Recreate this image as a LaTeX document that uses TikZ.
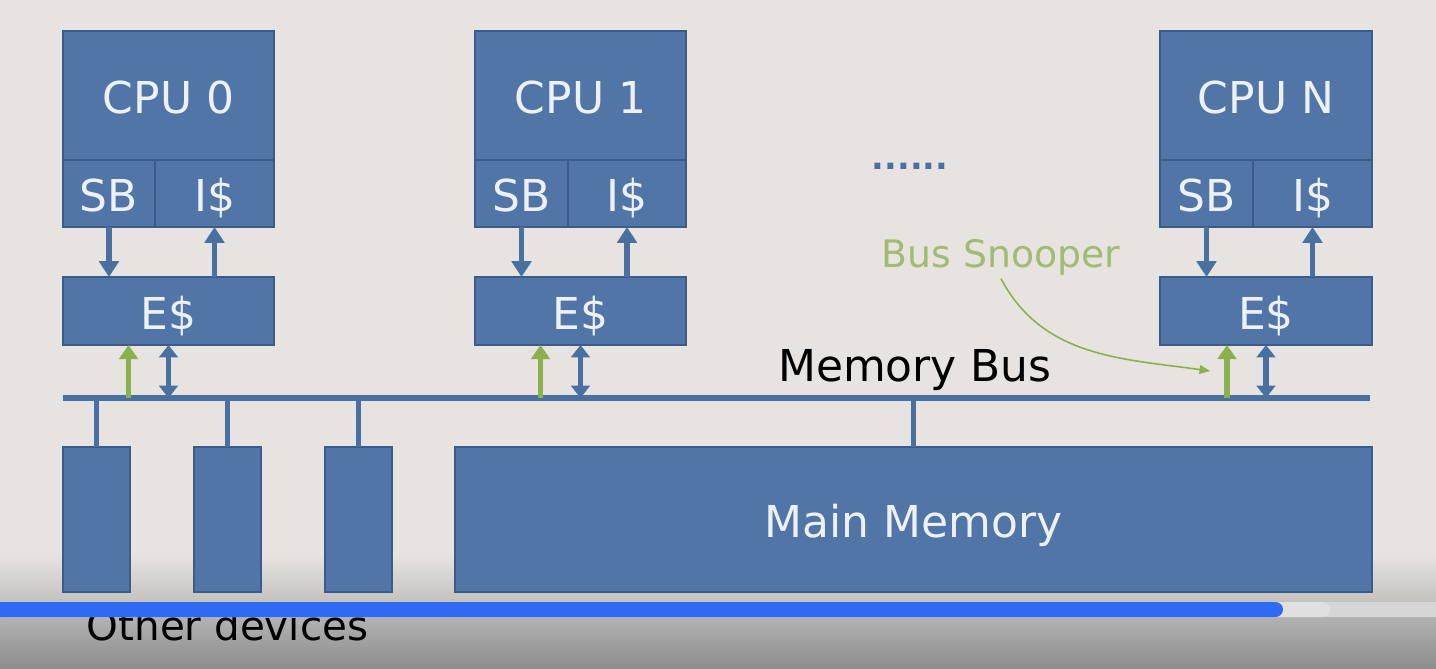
\documentclass[tikz,border=0pt]{standalone}
\usepackage{fontspec}
\setmainfont{DejaVu Sans}
\usetikzlibrary{arrows.meta,calc}

\definecolor{bg}{HTML}{E6E3E0}
\definecolor{boxfill}{HTML}{5075A6}
\definecolor{boxline}{HTML}{3B5B89}
\definecolor{boxtext}{HTML}{EDF1F6}
\definecolor{linkblue}{HTML}{4A70A2}
\definecolor{snoopgreen}{HTML}{8CB04C}
\definecolor{snooptext}{HTML}{A2BB72}
\definecolor{barblue}{HTML}{2E6BF2}

\tikzset{
  unit/.style={draw=boxline, fill=boxfill, text=boxtext, line width=1pt,
    inner sep=0pt, outer sep=0pt, text height=21pt, text depth=0pt,
    font=\fontsize{25}{30}\selectfont},
  link/.style={draw=linkblue, line width=3pt, -{Triangle[length=9pt,width=11pt]}},
  dlink/.style={draw=linkblue, line width=3pt,
    {Triangle[length=7pt,width=10.5pt]}-{Triangle[length=7pt,width=10.5pt]}},
  glink/.style={draw=snoopgreen, line width=3.2pt, -{Triangle[length=8pt,width=10.5pt]}},
  bus/.style={draw=linkblue, line width=3.2pt}
}

\begin{document}
\begin{tikzpicture}
    % background and margins
    \fill[bg] (0,0) rectangle (28.72,-13.36);
    \useasboundingbox (0,0) rectangle (28.72,-13.36);
    \shade[top color=bg, bottom color=bg!85!black] (0,-11.1) rectangle (28.72,-12.04);

    % processors
    \node[unit, minimum width=4.22cm, minimum height=2.58cm] (cpu0) at (3.37,-1.91) {CPU 0};
    \node[unit, minimum width=1.84cm, minimum height=1.34cm] (sb0) at (2.18,-3.87) {SB};
    \node[unit, minimum width=2.38cm, minimum height=1.34cm] (i0) at (4.29,-3.87) {I\$};
    \node[unit, minimum width=4.22cm, minimum height=1.36cm] (e0) at (3.37,-6.22) {E\$};

    \node[unit, minimum width=4.22cm, minimum height=2.58cm] (cpu1) at (11.61,-1.91) {CPU 1};
    \node[unit, minimum width=1.86cm, minimum height=1.34cm] (sb1) at (10.43,-3.87) {SB};
    \node[unit, minimum width=2.36cm, minimum height=1.34cm] (i1) at (12.54,-3.87) {I\$};
    \node[unit, minimum width=4.22cm, minimum height=1.36cm] (e1) at (11.61,-6.22) {E\$};

    \node[unit, minimum width=4.24cm, minimum height=2.58cm] (cpun) at (25.32,-1.91) {CPU N};
    \node[unit, minimum width=1.86cm, minimum height=1.34cm] (sbn) at (24.13,-3.87) {SB};
    \node[unit, minimum width=2.38cm, minimum height=1.34cm] (in) at (26.25,-3.87) {I\$};
    \node[unit, minimum width=4.24cm, minimum height=1.36cm] (en) at (25.32,-6.22) {E\$};

    \node[text=linkblue, font=\fontsize{19}{24}\bfseries, anchor=base] (dots) at (18.2,-3.38) {......};

    % memory bus
    \coordinate (busl) at (1.26,-7.96);
    \coordinate (busr) at (27.40,-7.96);
    \draw[bus] (busl) -- (busr);
    \node[anchor=base, font=\fontsize{25}{30}\selectfont] (buslabel) at (18.3,-7.62) {Memory Bus};

    % devices and memory
    \node[unit, minimum width=1.34cm, minimum height=2.9cm] (dev1) at (1.93,-10.39) {};
    \node[unit, minimum width=1.34cm, minimum height=2.9cm] (dev2) at (4.55,-10.39) {};
    \node[unit, minimum width=1.34cm, minimum height=2.9cm] (dev3) at (7.17,-10.39) {};
    \node[unit, minimum width=18.34cm, minimum height=2.9cm] (mem) at (18.27,-10.39) {Main Memory};

    \draw[bus, line width=2.6pt] (dev1.north) -- (dev1.north |- busl);
    \draw[bus, line width=2.6pt] (dev2.north) -- (dev2.north |- busl);
    \draw[bus, line width=2.6pt] (dev3.north) -- (dev3.north |- busl);
    \draw[bus, line width=2.6pt] (mem.north) -- (mem.north |- busl);

    % cpu <-> e$
    \draw[link] (sb0.south) -- (sb0.south |- e0.north);
    \draw[link] (i0.south |- e0.north) -- (i0.south);
    \draw[link] (sb1.south) -- (sb1.south |- e1.north);
    \draw[link] (i1.south |- e1.north) -- (i1.south);
    \draw[link] (sbn.south) -- (sbn.south |- en.north);
    \draw[link] (in.south |- en.north) -- (in.south);

    % e$ <-> bus
    \draw[glink] ([xshift=-0.8cm]e0.south |- busl) -- ([xshift=-0.8cm]e0.south);
    \draw[dlink] (e0.south |- busl) -- (e0.south);
    \draw[glink] ([xshift=-0.8cm]e1.south |- busl) -- ([xshift=-0.8cm]e1.south);
    \draw[dlink] (e1.south |- busl) -- (e1.south);
    \draw[glink] ([xshift=-0.78cm]en.south |- busl) -- ([xshift=-0.78cm]en.south);
    \draw[dlink] (en.south |- busl) -- (en.south);

    % snooper
    \node[text=snooptext, anchor=base, inner sep=2pt, font=\fontsize{21.5}{26}\selectfont] (snoop) at (20.02,-5.34) {Bus Snooper};
    \coordinate (snoopend) at (24.2,-7.42);
    \draw[snoopgreen, line width=0.9pt, -{Triangle[length=6pt,width=5pt]}] (snoop.south) to[out=-62,in=172] (snoopend);

    % player bar at the bottom
    \shade[top color=black!30, bottom color=black!45] (0,-12.34) rectangle (28.72,-13.36);
    \node[anchor=base, font=\fontsize{23}{28}\selectfont] (other) at (4.55,-12.8) {Other devices};
    \fill[black!16] (0,-12.04) rectangle (28.72,-12.34);
    \fill[black!12, rounded corners=0.15cm] (0,-12.04) rectangle (26.6,-12.34);
    \fill[barblue, rounded corners=0.15cm] (-0.5,-12.04) rectangle (25.66,-12.34);
\end{tikzpicture}
\end{document}
